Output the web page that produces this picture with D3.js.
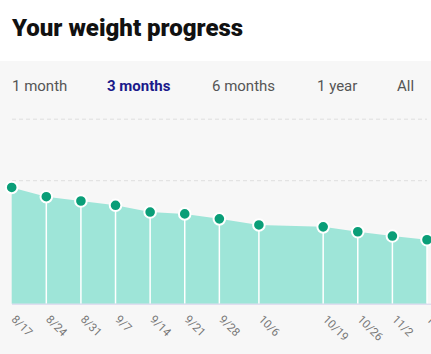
<!DOCTYPE html>
<html>
<head>
<meta charset="utf-8">
<script src="https://cdn.jsdelivr.net/npm/d3@7"></script>
<style>
  body { margin: 0; background: #fff; font-family: Roboto, sans-serif; overflow: hidden; }
</style>
</head>
<body>
<svg id="chart" width="431" height="354"></svg>
<script>
const dates = ["2019-08-17", "2019-08-24", "2019-08-31", "2019-09-07", "2019-09-14", "2019-09-21",
               "2019-09-28", "2019-10-06", "2019-10-19", "2019-10-26", "2019-11-02", "2019-11-09"];
const weights = [168.9, 167.4, 166.7, 166.0, 164.9, 164.6, 163.8, 162.8, 162.5, 161.7, 161.0, 160.4];
const yTicks = [150, 160, 170, 180];
const tabs = ["1 month", "3 months", "6 months", "1 year", "All"];
const tabLeft = [12, 107, 212, 317, 397];
const activeTab = "3 months";

const parse = d3.timeParse("%Y-%m-%d");
const data = dates.map((d, i) => ({ date: parse(d), value: weights[i] }));

const svg = d3.select("#chart");

svg.append("text")
    .attr("x", 12).attr("y", 36)
    .attr("font-size", 24).attr("font-weight", 900)
    .attr("fill", "#111")
    .text("Your weight progress");

svg.append("rect")
    .attr("x", 0).attr("y", 61)
    .attr("width", 431).attr("height", 293)
    .attr("fill", "#f7f7f7");

svg.append("g").selectAll("text")
    .data(tabs)
    .join("text")
    .attr("x", (d, i) => tabLeft[i])
    .attr("y", 91)
    .attr("font-size", 15)
    .attr("font-weight", d => d === activeTab ? 700 : 400)
    .attr("fill", d => d === activeTab ? "#1b1a8a" : "#555")
    .text(d => d);

const x = d3.scaleTime()
    .domain(d3.extent(data, d => d.date))
    .range([11.7, 427]);

const y = d3.scaleLinear()
    .domain([150, 180])
    .range([303.7, 119.2]);

svg.append("g")
    .selectAll("line")
    .data(yTicks.slice(1))
    .join("line")
    .attr("x1", 12).attr("x2", 427)
    .attr("y1", d => y(d)).attr("y2", d => y(d))
    .attr("stroke", "#dedede")
    .attr("stroke-dasharray", "4,3");

const area = d3.area()
    .x(d => x(d.date))
    .y0(y(150))
    .y1(d => y(d.value));

svg.append("path")
    .datum(data)
    .attr("d", area)
    .attr("fill", "#9ee5d8");

svg.append("g")
    .selectAll("line")
    .data(data.slice(1))
    .join("line")
    .attr("x1", d => x(d.date)).attr("x2", d => x(d.date))
    .attr("y1", d => y(d.value)).attr("y2", y(150))
    .attr("stroke", "#fff")
    .attr("stroke-width", 1.5);

svg.append("line")
    .attr("x1", 12).attr("x2", 431)
    .attr("y1", y(150) + 0.5).attr("y2", y(150) + 0.5)
    .attr("stroke", "#d4d2ec");

svg.append("g")
    .selectAll("circle")
    .data(data)
    .join("circle")
    .attr("cx", d => x(d.date))
    .attr("cy", d => y(d.value))
    .attr("r", 5.8)
    .attr("fill", "#0a9e78")
    .attr("stroke", "#fff")
    .attr("stroke-width", 2);

const fmt = d3.timeFormat("%-m/%-d");
svg.append("g")
    .selectAll("text")
    .data(data)
    .join("text")
    .attr("transform", d => `translate(${x(d.date) - 1},${320}) rotate(45)`)
    .attr("font-size", 11.5)
    .attr("fill", "#777")
    .text(d => fmt(d.date));
</script>
</body>
</html>
